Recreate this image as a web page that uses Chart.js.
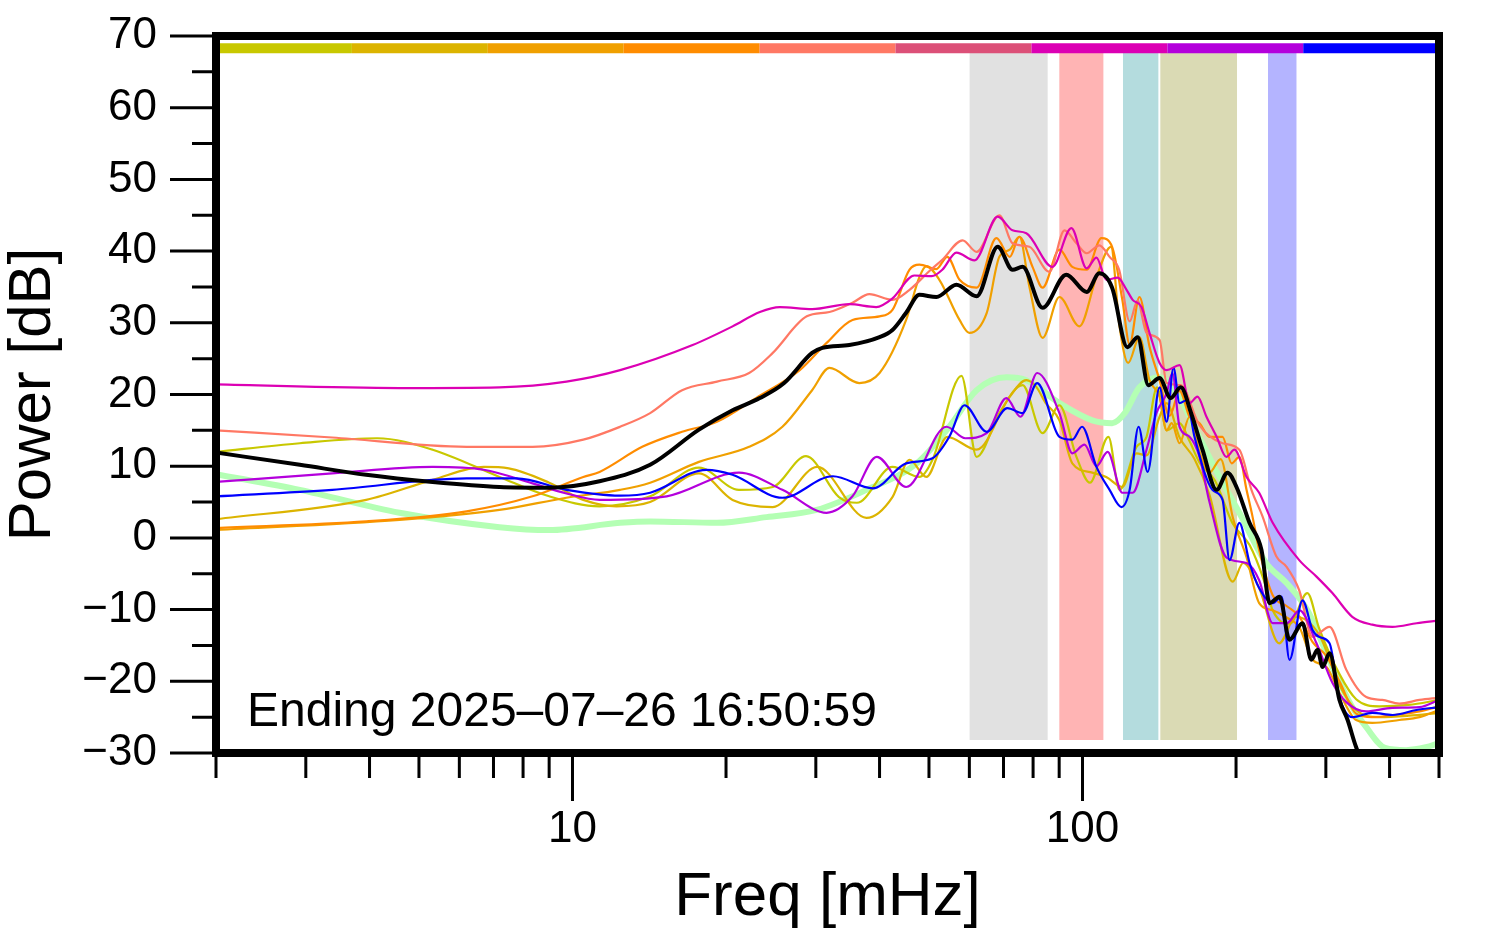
<!DOCTYPE html>
<html>
<head>
<meta charset="utf-8">
<title>Power spectrum</title>
<script src="https://cdn.jsdelivr.net/npm/chart.js@4.4.1/dist/chart.umd.min.js"></script>
<style>
    html, body { margin: 0; padding: 0; background: #ffffff; }
    #spectrum { display: block; }
</style>
</head>
<body>
<canvas id="spectrum" width="1494" height="952"></canvas>
<script>
// axis ticks
const x_tick_values = [2, 3, 4, 5, 6, 7, 8, 9, 10, 20, 30, 40, 50, 60, 70, 80, 90, 100, 200, 300, 400, 500];
const x_major_ticks = [10, 100];
const stamp_text = "Ending 2025\u201307\u201326 16:50:59";

// colour bar along the top
const bar_edges = [2, 3.694, 6.823, 12.60, 23.28, 42.99, 79.41, 146.7, 270.9, 500];
const bar_colours = ["#c8c800", "#dcb400", "#f0a000", "#ff8c00", "#ff7864", "#dc5078", "#dc00b4", "#b400dc", "#0000ff"];
const bar_level = 68.3;

// shaded bands
const band_start = [60, 90, 120, 142, 231];
const band_end = [85.5, 110, 141, 201, 263];
const band_colours = ["#e1e1e1", "#ffb4b4", "#b4dcde", "#dadab4", "#b4b4ff"];
const band_top = 67.8;
const band_bottom = -28.2;

// spectra
const black_freq = [2.0, 2.92, 3.94, 5.32, 7.19, 9.0, 11.3, 14.2, 17.7, 20.6, 23.3, 26.0, 29.5, 30.9, 34.9, 40.0, 42.4, 45.1, 47.9, 51.7, 56.6, 62.0, 68.2, 72.9, 76.3, 83.5, 92.9, 101.9, 107.9, 114.3, 122.4, 128.3, 134.6, 141.6, 148.8, 155.8, 163.3, 171.9, 183.2, 192.4, 200.4, 212.5, 224.4, 232.7, 243.4, 254.6, 270, 281, 289, 295.6, 305, 319, 331, 344, 357, 500];
const black_db = [11.9, 10.2, 8.8, 7.8, 7.1, 7.0, 7.9, 10.2, 15.1, 17.8, 19.5, 21.6, 25.8, 26.5, 26.9, 28.0, 29.0, 31.4, 33.9, 33.6, 35.3, 33.7, 40.6, 37.4, 37.8, 32.1, 36.7, 34.3, 36.9, 34.9, 26.6, 28.0, 21.3, 22.3, 19.5, 21.0, 17.4, 12.3, 6.7, 9.1, 7.1, 2.1, -1.7, -9.1, -8.2, -14.2, -11.9, -17.0, -15.6, -18.0, -16.1, -22.6, -25.4, -29.2, -31.5, -33];

const magenta_freq = [2.0, 4.58, 7.19, 9.73, 12.4, 17.2, 20.6, 23.3, 25.5, 29.5, 34.9, 39.4, 42.4, 46.8, 50.6, 53.1, 56.6, 61.4, 68.2, 72.9, 77.6, 87.3, 95.1, 101.9, 106.5, 111.4, 117.2, 122, 125.4, 130.5, 135.3, 141.6, 146.2, 155, 162.2, 168, 175, 183.2, 191.4, 198.6, 209.7, 222, 236, 266, 287.6, 309, 338, 370, 405, 452, 500];
const magenta_db = [21.4, 20.9, 21.0, 21.8, 23.4, 26.9, 29.5, 31.5, 32.2, 31.9, 32.6, 32.2, 33.4, 36.6, 36.5, 37.4, 39.8, 38.7, 44.8, 42.9, 42.5, 37.8, 43.2, 37.6, 39.1, 36.0, 36.3, 34.6, 33.2, 32.2, 28.6, 24.4, 23.4, 24.1, 18.8, 19.7, 16.9, 14.1, 11.3, 12.3, 8.5, 6.3, 2.1, -3.1, -5.4, -7.7, -11.0, -12.1, -12.4, -11.9, -11.5];

const salmon_freq = [2.0, 3.38, 6.2, 8.35, 10.5, 12.4, 14.2, 16.4, 19.2, 22.2, 24.7, 28.8, 31.9, 35.4, 38.2, 42.4, 45.8, 50.4, 53.1, 58.2, 62.0, 68.7, 72.9, 78.7, 86.1, 92.2, 97.3, 101.9, 107.9, 113, 118, 123.7, 128.2, 133.5, 141.6, 146.2, 155.8, 169.6, 188.2, 203, 214.4, 225.4, 240, 251, 266, 282.4, 305, 329, 360, 387, 418, 458, 500];
const salmon_db = [15.0, 14.0, 12.7, 12.7, 13.7, 15.5, 17.4, 20.6, 21.8, 23.0, 25.8, 30.9, 31.5, 32.8, 34.0, 33.2, 34.6, 37.4, 38.8, 41.5, 39.9, 45.0, 41.1, 40.6, 37.1, 42.9, 41.1, 39.7, 40.8, 39.2, 37.4, 30.2, 33.1, 28.6, 27.6, 21.6, 21.3, 15.7, 13.2, 12.3, 6.7, 3.0, -2.6, -4.0, -7.3, -13.8, -12.4, -18.4, -22.2, -22.6, -23.1, -22.6, -22.3];

const orange_freq = [2.0, 3.94, 6.2, 8.35, 10.5, 11.3, 13.7, 16.4, 19.2, 22.9, 27.9, 31.5, 35.4, 40.0, 42.4, 45.8, 47.9, 51.7, 54.3, 57.4, 62.0, 67.8, 72.0, 75.2, 79.8, 83.5, 90.1, 95.5, 101.9, 108.9, 114.3, 119.7, 123.7, 129.3, 135.3, 141.6, 148.1, 155, 162.1, 169.6, 177.4, 188.2, 196, 203, 209.7, 215.4, 222, 236, 251.2, 266.4, 282.4, 300.9, 319, 344, 370, 418, 458, 500];
const orange_db = [1.4, 2.3, 3.7, 5.8, 8.5, 9.2, 12.7, 14.8, 16.2, 19.5, 23.4, 27.2, 30.4, 30.9, 31.8, 37.4, 38.1, 37.5, 39.2, 36.0, 34.9, 41.8, 39.2, 42.0, 37.8, 34.9, 40.2, 37.8, 37.4, 41.8, 40.6, 33.2, 27.0, 33.6, 26.7, 22.0, 17.0, 20.5, 16.9, 16.0, 14.1, 14.1, 10.4, 11.3, 6.7, 3.0, -1.7, -8.0, -9.5, -11.0, -14.5, -16.5, -20.0, -24.5, -25.0, -24.6, -24.2, -23.5];

const amber_freq = [2.0, 4.58, 7.19, 9.73, 12.4, 14.2, 17.7, 22.2, 25.8, 29.5, 31.9, 36.5, 40.0, 45.1, 47.9, 49.4, 52.4, 57.4, 60.0, 64.9, 68.7, 72.0, 75.2, 78.7, 83.5, 90.1, 98.6, 106.5, 113.7, 118.2, 122.9, 129.3, 135.3, 141.6, 146.2, 149.6, 155, 162.1, 169.6, 177.4, 186.6, 197, 209.7, 222, 236, 251.2, 266.4, 282.4, 300.9, 319, 344, 370, 418, 458, 500];
const amber_db = [1.1, 2.5, 3.9, 5.6, 6.7, 7.7, 10.6, 12.7, 15.5, 20.6, 23.7, 21.6, 23.0, 30.4, 36.4, 37.9, 36.0, 30.4, 28.6, 31.4, 39.2, 40.2, 42.0, 35.0, 27.9, 33.6, 29.5, 36.4, 40.6, 29.5, 24.4, 28.0, 22.0, 19.7, 15.0, 16.0, 13.2, 16.9, 12.0, 9.1, 11.0, 2.9, -2.7, -9.1, -10.1, -11.1, -12.5, -17.0, -18.0, -21.6, -25.4, -25.8, -25.4, -25.0, -24.0];

const olive_freq = [2.0, 2.92, 4.14, 5.32, 7.19, 9.0, 11.3, 14.2, 17.7, 21.2, 24.7, 28.7, 33.3, 36.1, 42.4, 47.9, 50.8, 57.9, 62.0, 68.7, 76.3, 83.5, 90.1, 97.3, 103.4, 112.4, 118.2, 127.6, 133.5, 140, 146.2, 155, 162.1, 169.6, 181.8, 197, 212.6, 227, 236, 254.6, 276, 290.7, 319, 344, 382, 436, 500];
const olive_db = [12.0, 13.2, 13.9, 12.3, 8.5, 5.8, 4.4, 5.8, 9.8, 6.7, 7.1, 11.4, 5.7, 4.9, 9.9, 8.5, 10.9, 22.6, 11.3, 17.4, 21.3, 14.6, 18.5, 11.3, 7.7, 14.1, 6.7, 12.7, 14.1, 21.0, 15.0, 16.0, 13.5, 10.5, 8.0, 2.0, -1.0, -6.0, -10.1, -12.0, -7.7, -12.5, -19.0, -22.5, -23.5, -23.3, -22.6];

const gold_freq = [2.0, 3.94, 5.32, 6.7, 7.5, 9.0, 10.5, 12.2, 14.2, 17.7, 20.6, 24.7, 30.2, 37.7, 42.4, 45.8, 49.4, 54.3, 62.0, 72.0, 77.6, 81.1, 84.7, 90.1, 95.5, 104.5, 111.3, 119.7, 127.6, 133.5, 141.6, 146.2, 155, 165.8, 177.4, 197, 206.5, 222, 243, 262, 291, 319, 344, 382, 436, 500];
const gold_db = [2.6, 5.3, 8.1, 9.9, 9.7, 7.7, 5.3, 4.4, 5.0, 9.0, 5.3, 4.3, 9.9, 2.8, 5.7, 10.9, 8.5, 14.1, 12.3, 19.7, 22.0, 21.1, 18.8, 16.4, 10.4, 9.1, 8.5, 7.1, 11.8, 11.5, 16.9, 18.8, 14.0, 11.0, 6.0, -6.1, -3.5, -7.0, -14.7, -11.0, -13.5, -20.5, -24.0, -25.0, -24.8, -24.4];

const purple_freq = [2.0, 3.38, 5.32, 6.7, 8.35, 9.73, 11.3, 15.3, 21.2, 25.8, 31.5, 35.4, 39.5, 45.1, 54.1, 58.9, 64.9, 70.9, 75.6, 81.5, 90.1, 95.5, 100.9, 106.5, 112, 119.7, 125.4, 133.5, 139.6, 146.2, 150, 155, 162.1, 169.6, 177.4, 191.4, 209.7, 222, 236, 251.2, 266.4, 287.6, 309, 329, 360, 405, 458, 500];
const purple_db = [7.8, 9.0, 9.9, 9.5, 7.6, 6.2, 5.3, 5.8, 9.1, 6.7, 3.5, 5.8, 11.3, 7.1, 15.5, 13.9, 14.6, 19.5, 16.9, 23.0, 17.4, 11.8, 13.0, 10.0, 12.0, 6.3, 6.3, 12.3, 17.4, 20.2, 23.0, 15.5, 14.1, 11.3, 5.0, -2.7, -3.5, -5.9, -11.9, -11.9, -10.1, -14.7, -20.2, -22.9, -24.2, -23.7, -23.6, -22.6];

const blue_freq = [2.0, 3.38, 6.2, 7.77, 9.73, 12.4, 14.2, 18.3, 20.6, 25.8, 32.4, 38.8, 45.1, 50.8, 54.8, 58.7, 64.9, 71.2, 76.3, 81.5, 90.1, 95.5, 99.8, 106.5, 113, 119.2, 123.7, 128.8, 134.2, 141.6, 146.2, 150.8, 155, 160, 165.8, 179.8, 188.2, 194.2, 203, 212.6, 222, 236, 245.6, 254.6, 270, 282.4, 290.7, 305, 319, 338, 370, 405.5, 451.6, 500];
const blue_db = [5.8, 6.7, 8.3, 8.3, 6.7, 5.9, 6.3, 9.5, 8.8, 5.6, 8.6, 6.9, 10.4, 11.1, 14.1, 18.5, 14.8, 18.1, 17.4, 21.6, 14.1, 13.7, 15.5, 9.9, 6.7, 4.3, 6.7, 15.5, 9.2, 21.0, 16.2, 23.7, 18.8, 19.2, 14.1, 6.7, 5.3, -3.1, 2.1, -3.5, -7.0, -9.1, -8.2, -17.0, -8.7, -12.8, -13.8, -14.7, -22.2, -25.0, -24.4, -24.7, -24.0, -23.6];

const green_freq = [2.0, 2.92, 4.58, 7.19, 9.0, 12.4, 14.2, 19.2, 24.0, 30.1, 37.7, 47.3, 54.8, 62.0, 70.9, 77.6, 90.1, 104.5, 114.3, 121, 129.3, 141.6, 155, 169.6, 185.6, 203, 229, 251.2, 276, 309, 338, 360, 392, 431, 471, 500];
const green_db = [8.9, 6.7, 3.5, 1.5, 1.1, 2.1, 2.3, 2.1, 2.9, 3.9, 6.7, 10.4, 15.5, 20.6, 22.4, 22.0, 18.8, 16.4, 16.0, 17.4, 21.0, 22.4, 19.5, 14.0, 8.5, 3.5, -3.5, -6.3, -10.1, -18.0, -23.6, -26.4, -29.3, -29.6, -29.2, -28.6];

const font_family = "'Liberation Sans', Arial, Helvetica, sans-serif";

function toPoints(freq, db) {
    let points = [];
    for (let i = 0; i < Math.min(freq.length, db.length); i++) {
        points.push({ x: freq[i], y: db[i] });
    }
    return points;
}

function makeSpectrum(freq, db, colour, width, order) {
    return {
        data: toPoints(freq, db),
        borderColor: colour,
        borderWidth: width,
        pointRadius: 0,
        fill: false,
        cubicInterpolationMode: "monotone",
        order: order
    };
}

function formatDb(value) {
    if (value % 10 !== 0) return "";
    return value < 0 ? "\u2212" + Math.abs(value) : String(value);
}

let datasets = [];
datasets.push(makeSpectrum(black_freq, black_db, "#000000", 4, 0));
datasets.push(makeSpectrum(magenta_freq, magenta_db, "#dc00b4", 2.2, 1));
datasets.push(makeSpectrum(blue_freq, blue_db, "#0000ff", 2.2, 2));
datasets.push(makeSpectrum(purple_freq, purple_db, "#b400dc", 2.2, 3));
datasets.push(makeSpectrum(salmon_freq, salmon_db, "#ff7864", 2.2, 4));
datasets.push(makeSpectrum(orange_freq, orange_db, "#ff8c00", 2.2, 5));
datasets.push(makeSpectrum(amber_freq, amber_db, "#f0a000", 2.2, 6));
datasets.push(makeSpectrum(gold_freq, gold_db, "#dcb400", 2.2, 7));
datasets.push(makeSpectrum(olive_freq, olive_db, "#c8c800", 2.2, 8));
datasets.push(makeSpectrum(green_freq, green_db, "#b4ffb4", 6, 9));

// colour bar: one line, each segment coloured
datasets.push({
    data: bar_edges.map(f => ({ x: f, y: bar_level })),
    borderColor: bar_colours[0],
    borderWidth: 10,
    borderCapStyle: "butt",
    pointRadius: 0,
    tension: 0,
    fill: false,
    segment: {
        borderColor: ctx => bar_colours[ctx.p0DataIndex]
    },
    order: 10
});

for (let i = 0; i < band_start.length; i++) {
    datasets.push({
        data: [{ x: band_start[i], y: band_top }, { x: band_end[i], y: band_top }],
        borderColor: "rgba(0,0,0,0)",
        borderWidth: 0,
        backgroundColor: band_colours[i],
        pointRadius: 0,
        tension: 0,
        fill: { value: band_bottom },
        order: 11
    });
}

const frame_plugin = {
    id: "frame_plugin",
    afterDraw(chart) {
        const ctx = chart.ctx;
        const area = chart.chartArea;
        const x_scale = chart.scales.x;
        const y_scale = chart.scales.y;
        ctx.save();
        ctx.strokeStyle = "#000000";
        ctx.lineWidth = 3;
        ctx.beginPath();
        for (const tick of x_scale.ticks) {
            let px = x_scale.getPixelForValue(tick.value);
            let len = x_major_ticks.includes(tick.value) ? 48 : 25;
            ctx.moveTo(px, area.bottom);
            ctx.lineTo(px, area.bottom + len);
        }
        for (const tick of y_scale.ticks) {
            let py = y_scale.getPixelForValue(tick.value);
            let len = tick.value % 10 === 0 ? 46 : 24;
            ctx.moveTo(area.left, py);
            ctx.lineTo(area.left - len, py);
        }
        ctx.stroke();
        ctx.lineWidth = 8;
        ctx.strokeRect(area.left, area.top, area.right - area.left, area.bottom - area.top);
        ctx.fillStyle = "#000000";
        ctx.font = "48px " + font_family;
        ctx.textBaseline = "alphabetic";
        ctx.textAlign = "left";
        ctx.fillText(stamp_text, area.left + 31, area.bottom - 27);
        ctx.restore();
    }
};

const spectrum_context = document.getElementById("spectrum").getContext("2d");

var spectrum_chart = new Chart(spectrum_context, {
    type: "line",
    data: { datasets: datasets },
    options: {
        responsive: false,
        animation: false,
        devicePixelRatio: 1,
        layout: { padding: { top: 36, right: 55, left: 0, bottom: 0 } },
        plugins: {
            legend: { display: false },
            tooltip: { enabled: false }
        },
        scales: {
            x: {
                type: "logarithmic",
                min: 2,
                max: 500,
                afterBuildTicks: function(scale) {
                    scale.ticks = x_tick_values.map(v => ({ value: v }));
                },
                afterFit: function(scale) {
                    scale.height = 199;
                    scale.paddingLeft = 0;
                    scale.paddingRight = 0;
                },
                grid: { display: true, drawOnChartArea: false, drawTicks: false, color: "rgba(0,0,0,0)" },
                border: { display: false },
                ticks: {
                    autoSkip: false,
                    maxRotation: 0,
                    padding: 50,
                    color: "#000000",
                    font: { size: 44, family: font_family },
                    callback: function(value) {
                        return x_major_ticks.includes(value) ? String(value) : "";
                    }
                },
                title: {
                    display: true,
                    text: "Freq [mHz]",
                    color: "#000000",
                    font: { size: 62, family: font_family },
                    padding: { top: 0, bottom: 17 }
                }
            },
            y: {
                type: "linear",
                min: -30,
                max: 70,
                afterFit: function(scale) {
                    scale.width = 216;
                    scale.paddingTop = 0;
                    scale.paddingBottom = 0;
                },
                grid: { display: true, drawOnChartArea: false, drawTicks: false, color: "rgba(0,0,0,0)" },
                border: { display: false },
                ticks: {
                    stepSize: 5,
                    autoSkip: false,
                    padding: 59,
                    color: "#000000",
                    font: { size: 44, family: font_family },
                    callback: formatDb
                },
                title: {
                    display: true,
                    text: "Power [dB]",
                    color: "#000000",
                    font: { size: 60, family: font_family, lineHeight: 1.1 },
                    padding: { top: 0, bottom: 0 }
                }
            }
        }
    },
    plugins: [frame_plugin]
});
</script>
</body>
</html>
